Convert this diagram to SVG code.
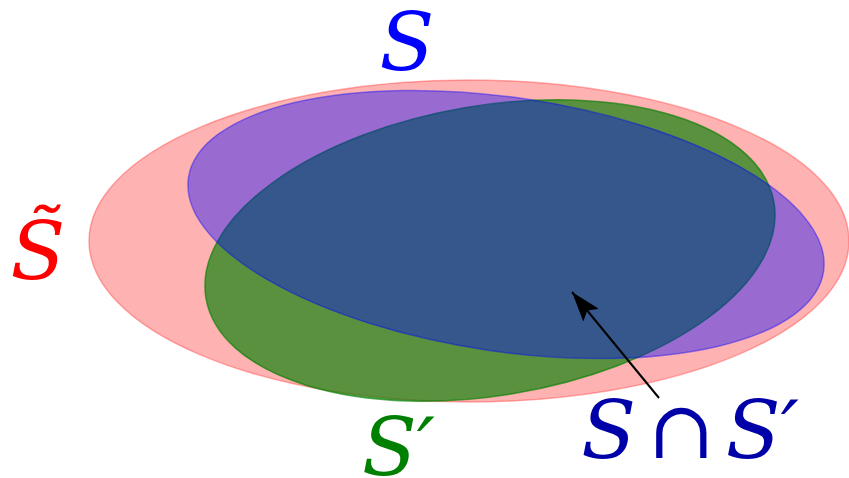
<svg xmlns="http://www.w3.org/2000/svg" width="849" height="478" viewBox="0 0 849 478">
<style>
text{font-family:'DejaVu Serif',serif;font-style:italic;font-size:80px}
.conn{stroke:#000;stroke-width:2;fill:none}
</style>
<defs>
<marker id="ah" markerWidth="32" markerHeight="20" refX="30" refY="10" orient="auto" markerUnits="userSpaceOnUse">
<path d="M0,0 L30,10 L0,20 L6,10 Z" fill="#000"/>
</marker>
</defs>
<rect width="849" height="478" fill="#fff"/>
<g id="Stilde">
<ellipse cx="469" cy="241" rx="380" ry="161" fill="#ff0000" fill-opacity="0.3" stroke="#ff0000" stroke-opacity="0.3" stroke-width="1.5"/>
</g>
<g id="Sprime">
<ellipse cx="0" cy="0" rx="288" ry="145" transform="translate(490,250.5) rotate(-9.5)" fill="#008000" fill-opacity="0.65" stroke="#008000" stroke-opacity="0.65" stroke-width="1.5"/>
</g>
<g id="S">
<ellipse cx="0" cy="0" rx="321" ry="127" transform="translate(506,224.5) rotate(8.4)" fill="#0000ff" fill-opacity="0.4" stroke="#0000ff" stroke-opacity="0.4" stroke-width="1.5"/>
</g>
<g id="connectors">
<line class="conn" x1="659" y1="398" x2="572" y2="292" marker-end="url(#ah)"/>
</g>
<g id="labels">
<text x="407" y="70" text-anchor="middle" fill="#0000ff">S</text>
<text x="38" y="279" text-anchor="middle" fill="#ff0000">S̃</text>
<text x="362" y="475" fill="#008000">S′</text>
<text x="690" y="458" text-anchor="middle" word-spacing="-14" fill="#0000a8">S ∩ S′</text>
</g>
</svg>
